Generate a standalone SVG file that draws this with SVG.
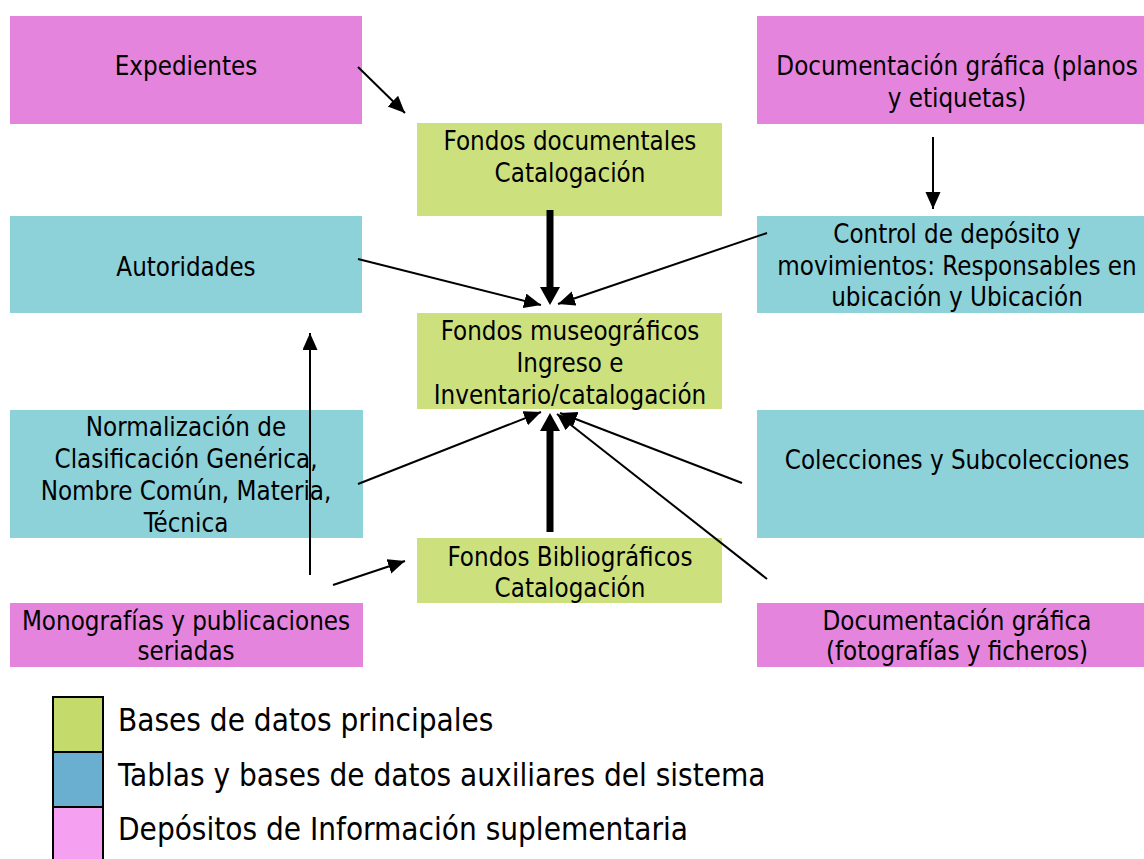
<svg xmlns="http://www.w3.org/2000/svg" width="1144" height="859" viewBox="0 0 1144 859">
<style>
text{font-family:"DejaVu Sans Condensed","DejaVu Sans",sans-serif;font-size:25.7px;fill:#000;text-anchor:middle}
.pink{fill:#e584dc}.green{fill:#cde07e}.cyan{fill:#8dd1d9}
.ln{stroke:#000;stroke-width:2;fill:none}
.thick{stroke:#000;stroke-width:7;fill:none}
.leg{font-size:31.2px;text-anchor:start}
</style>
<defs>
<marker id="a" markerUnits="userSpaceOnUse" markerWidth="19" markerHeight="16" refX="17" refY="7.5" orient="auto"><path d="M0,0 L17,7.5 L0,15 z" fill="#000"/></marker>
<marker id="b" markerUnits="userSpaceOnUse" markerWidth="20" markerHeight="22" refX="0" refY="10" orient="auto"><path d="M0,0 L18,10 L0,20 z" fill="#000"/></marker>
</defs>
<rect x="0" y="0" width="1144" height="859" fill="#fff"/>
<g id="expedientes"><rect class="pink" x="10" y="16" width="352" height="108"/><text x="186" y="75">Expedientes</text></g>
<g id="fondos-documentales"><rect class="green" x="417" y="123" width="305" height="93"/><text x="570" y="150">Fondos documentales</text><text x="570" y="182">Catalogación</text></g>
<g id="doc-grafica-planos"><rect class="pink" x="757" y="16" width="387" height="108"/><text x="957" y="75">Documentación gráfica (planos</text><text x="957" y="107">y etiquetas)</text></g>
<g id="autoridades"><rect class="cyan" x="10" y="216" width="352" height="97"/><text x="186" y="276">Autoridades</text></g>
<g id="control-deposito"><rect class="cyan" x="757" y="216" width="387" height="97"/><text x="957" y="243">Control de depósito y</text><text x="957" y="275">movimientos: Responsables en</text><text x="957" y="306">ubicación y Ubicación</text></g>
<g id="fondos-museograficos"><rect class="green" x="417" y="313" width="305" height="96"/><text x="570" y="340">Fondos museográficos</text><text x="570" y="372">Ingreso e</text><text x="570" y="404">Inventario/catalogación</text></g>
<g id="normalizacion"><rect class="cyan" x="10" y="410" width="353" height="128"/><text x="186" y="436">Normalización de</text><text x="186" y="468">Clasificación Genérica,</text><text x="186" y="500">Nombre Común, Materia,</text><text x="186" y="532">Técnica</text></g>
<g id="colecciones"><rect class="cyan" x="757" y="410" width="387" height="128"/><text x="957" y="469">Colecciones y Subcolecciones</text></g>
<g id="fondos-bibliograficos"><rect class="green" x="417" y="538" width="305" height="65"/><text x="570" y="566">Fondos Bibliográficos</text><text x="570" y="597">Catalogación</text></g>
<g id="monografias"><rect class="pink" x="10" y="603" width="353" height="64"/><text x="186" y="630">Monografías y publicaciones</text><text x="186" y="660">seriadas</text></g>
<g id="doc-grafica-fotografias"><rect class="pink" x="757" y="603" width="387" height="64"/><text x="957" y="630">Documentación gráfica</text><text x="957" y="660">(fotografías y ficheros)</text></g>
<g id="connectors">
<line class="ln" x1="358" y1="67" x2="405" y2="113" marker-end="url(#a)"/>
<line class="ln" x1="933" y1="137" x2="933" y2="209" marker-end="url(#a)"/>
<line class="thick" x1="550" y1="210" x2="550" y2="287" marker-end="url(#b)"/>
<line class="ln" x1="358" y1="259" x2="541" y2="305" marker-end="url(#a)"/>
<line class="ln" x1="767" y1="233" x2="558" y2="304" marker-end="url(#a)"/>
<line class="ln" x1="358" y1="484" x2="541" y2="412" marker-end="url(#a)"/>
<line class="thick" x1="550" y1="532" x2="550" y2="431" marker-end="url(#b)"/>
<line class="ln" x1="742" y1="483" x2="560" y2="413" marker-end="url(#a)"/>
<line class="ln" x1="767" y1="579" x2="557" y2="414" marker-end="url(#a)"/>
<line class="ln" x1="333" y1="585" x2="405" y2="561" marker-end="url(#a)"/>
<line class="ln" x1="310" y1="575" x2="310" y2="333" marker-end="url(#a)"/>
</g>
<g id="legend">
<rect x="53" y="697" width="50" height="55" fill="#c4da6a" stroke="#000" stroke-width="2"/>
<rect x="53" y="752" width="50" height="55" fill="#6aaed0" stroke="#000" stroke-width="2"/>
<rect x="53" y="807" width="50" height="55" fill="#f5a0f0" stroke="#000" stroke-width="2"/>
<text class="leg" x="118" y="731">Bases de datos principales</text>
<text class="leg" x="118" y="786">Tablas y bases de datos auxiliares del sistema</text>
<text class="leg" x="118" y="840">Depósitos de Información suplementaria</text>
</g>
</svg>
